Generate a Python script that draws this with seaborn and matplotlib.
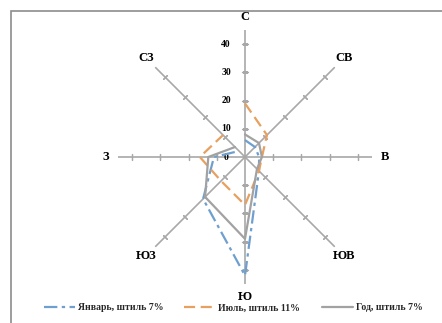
import numpy as np
import pandas as pd
import matplotlib
matplotlib.use("Agg")
import matplotlib.pyplot as plt
import seaborn as sns
from matplotlib.patches import Rectangle
from matplotlib.lines import Line2D

# Wind directions (clockwise from north) and repeat frequencies, %
directions = ["С", "СВ", "В", "ЮВ", "Ю", "ЮЗ", "З", "СЗ"]
january = [6, 5, 5, 7, 42, 21, 11, 3]
july = [19, 11, 6, 7, 17, 12, 16, 11]
year = [8, 7, 6, 6, 29, 20, 13, 5]
series_labels = ["Январь, штиль 7%", "Июль, штиль 11%", "Год, штиль 7%"]
r_ticks = [0, 10, 20, 30, 40]
r_max = 45

sns.set_theme(style="white")
plt.rcParams["font.family"] = ["Liberation Serif", "DejaVu Serif"]

fig = plt.figure(figsize=(4.42, 3.23), dpi=100)
fig.patch.set_facecolor("white")

# chart-area frame
fig.add_artist(Rectangle((11 / 442, -0.1), 1.0, (323 - 11) / 323 + 0.1,
                         transform=fig.transFigure, fill=False,
                         edgecolor="#8c8c8c", linewidth=1.2))

ax = fig.add_axes([118 / 442, 39 / 323, 254 / 442, 254 / 323], projection="polar")
ax.set_theta_zero_location("N")
ax.set_theta_direction(-1)
ax.set_ylim(0, r_max)
ax.grid(False)
ax.spines["polar"].set_visible(False)
ax.set_xticks([])
ax.set_yticks([])
ax.patch.set_alpha(0)

angles = np.deg2rad(np.arange(len(directions)) * 45.0)

# spokes with tick marks
spoke_color = "#a8a8a8"
for ang in angles:
    ax.plot([ang, ang], [0, r_max], color=spoke_color, lw=1.2, zorder=1)
    deg = np.rad2deg(ang)
    ax.scatter([ang] * (len(r_ticks) - 1), r_ticks[1:], marker=(2, 2, 90 - deg),
               s=14, color=spoke_color, linewidths=0.9, zorder=1)

# direction labels
for ang, name in zip(angles, directions):
    ax.text(ang, 49.5, name, ha="center", va="center", fontsize=9,
            fontweight="bold", color="black")

# radial value labels along the north spoke
for t in r_ticks:
    ax.annotate(str(t), xy=(0, t), xytext=(-19, 0), textcoords="offset pixels",
                ha="center", va="center", fontsize=7, fontweight="bold",
                color="black")

styles = [
    (january, "#6f9fce", (0, (6, 2, 1.5, 2))),
    (july, "#e8a060", (0, (5, 2.5))),
    (year, "#a2a2a2", "-"),
]
handles = []
for (vals, color, ls), label in zip(styles, series_labels):
    df = pd.DataFrame({"theta": np.append(angles, angles[0]),
                       "r": vals + vals[:1]})
    sns.lineplot(data=df, x="theta", y="r", sort=False, ax=ax, color=color,
                 linestyle=ls, linewidth=1.6, zorder=3, legend=False)
    handles.append(Line2D([], [], color=color, linestyle=ls, linewidth=1.6))

ax.set_xlabel("")
ax.set_ylabel("")

fig.legend(handles, series_labels, loc="center", ncol=3,
           bbox_to_anchor=(233 / 442, 1 - 308 / 323), frameon=False,
           prop={"size": 7, "weight": "bold"}, handlelength=3.2,
           handletextpad=0.3, columnspacing=2.2)

fig.savefig("out.png", dpi=100, facecolor="white")
